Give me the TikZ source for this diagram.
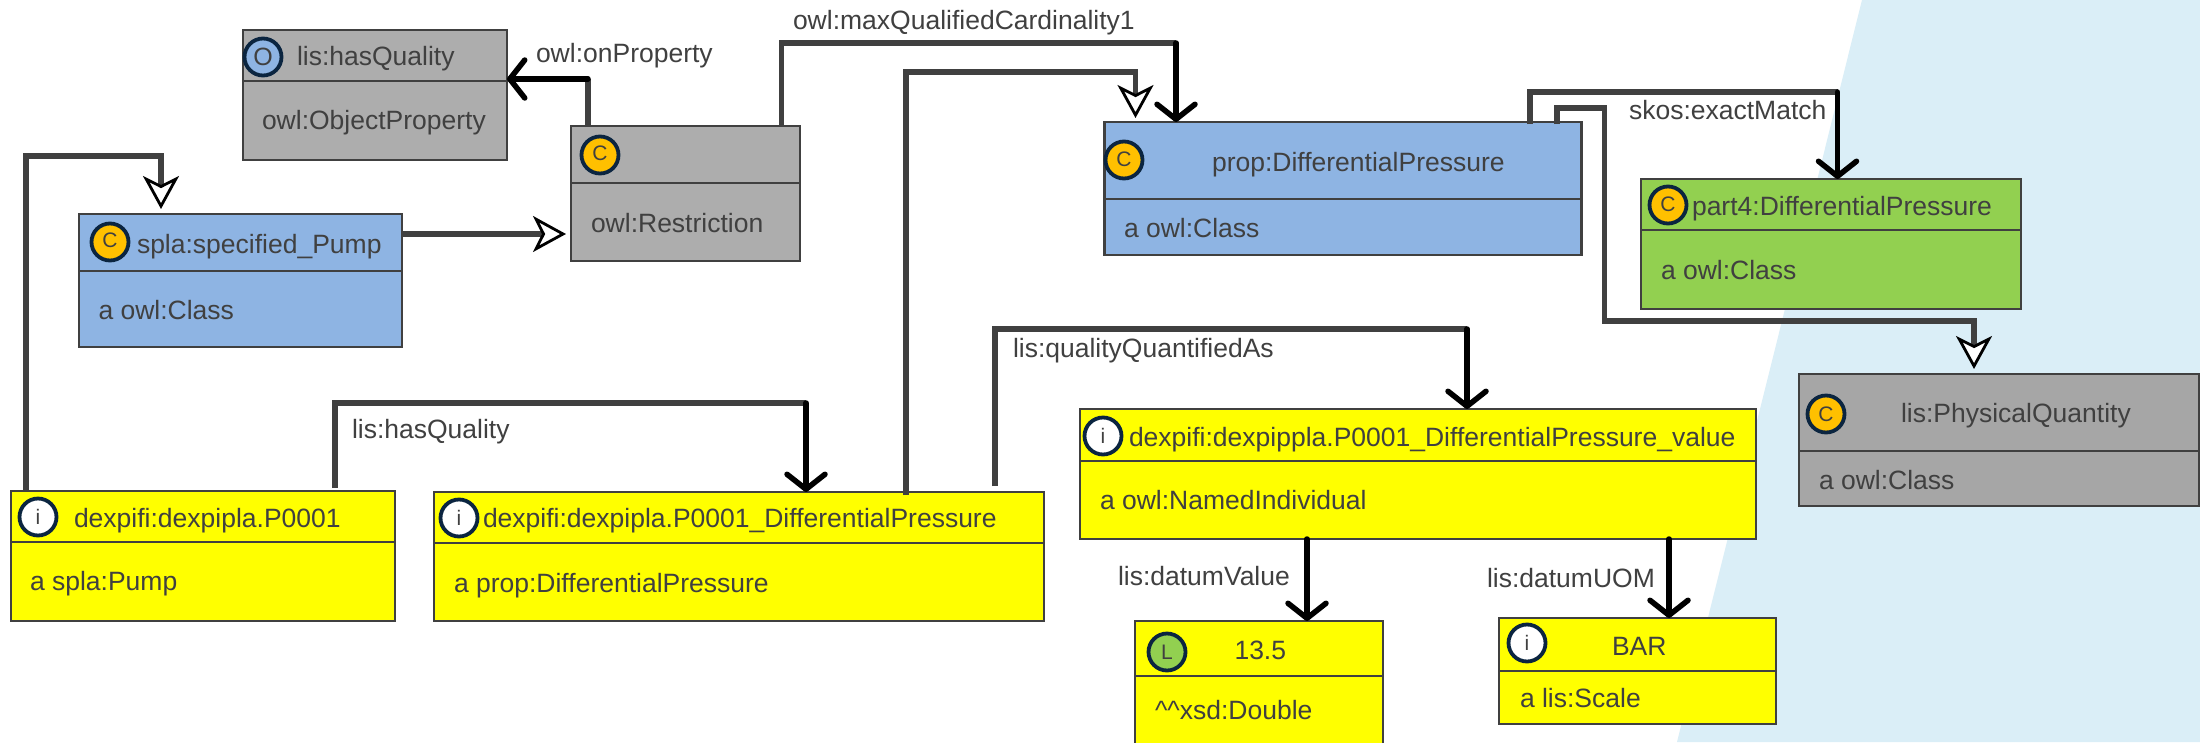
\documentclass[tikz,border=0pt]{standalone}
\usepackage{fontspec}
\setmainfont{Liberation Sans}
\usetikzlibrary{arrows.meta}
\definecolor{ink}{HTML}{404040}
\definecolor{navy}{HTML}{0B2540}
\definecolor{skyband}{HTML}{DAEEF7}
\definecolor{bluebox}{HTML}{8EB4E3}
\definecolor{greybox}{HTML}{ADADAD}
\definecolor{greyboxb}{HTML}{A6A6A6}
\definecolor{greenbox}{HTML}{92D050}
\definecolor{gold}{HTML}{FFC000}
\definecolor{yellowbox}{HTML}{FFFF00}
\tikzset{
  kboxstyle/.style={draw=ink,line width=2.6pt,rectangle,outer sep=0pt,inner sep=0pt,anchor=north west},
  divider/.style={draw=ink,line width=2.6pt},
  lbl/.style={anchor=base west,inner sep=0pt,outer sep=0pt,text=ink,font=\fontsize{26.5}{30}\selectfont},
  badge/.style={circle,draw=navy,line width=3.8pt,minimum size=37pt,inner sep=0pt,outer sep=0pt,text=ink,font=\fontsize{21}{24}\selectfont},
  conn/.style={draw=ink,line width=5.5pt},
  connstrong/.style={draw=black,line width=5.5pt,line cap=round,-{Straight Barb[length=15pt,width=38pt,line width=5.5pt,round]}},
  openhead/.style={-{Stealth[length=33pt,width=36pt,inset=9pt,line width=2.8pt,color=black,fill=white]}},
}
% name, x0, y0, x1, y1, divider y, fill
\newcommand{\kbox}[7]{%
  \node[kboxstyle,fill=#7,minimum width={(#4-#2)*1pt},minimum height={(#5-#3)*1pt}] (#1) at (#2,#3) {};
  \draw[divider] (#1.west |- 0,#6) -- (#1.east |- 0,#6);
}
\begin{document}
\begin{tikzpicture}[x=1pt,y=-1pt]
\useasboundingbox (0,0) rectangle (2200,742);
\clip (0,0) rectangle (2200,742);
\fill[white] (0,0) rectangle (2200,742);
\fill[skyband] (1862,0) -- (2200,0) -- (2200,742) -- (1677,742) -- cycle;

% boxes
\kbox{hq}{243}{30}{507}{160}{81}{greybox}
\kbox{restr}{571}{126}{800}{261}{183}{greybox}
\kbox{spla}{79}{214}{402}{347}{271}{bluebox}
\kbox{prop}{1104.5}{122}{1581.5}{255}{199}{bluebox}
\kbox{part}{1641}{179}{2021}{309}{230}{greenbox}
\kbox{pq}{1799}{374}{2199}{506}{451}{greyboxb}
\kbox{pump}{11}{491}{395}{621}{542}{yellowbox}
\kbox{dp}{434}{492}{1044}{621}{543}{yellowbox}
\kbox{val}{1080}{409}{1756}{539}{461}{yellowbox}
\kbox{lit}{1135}{621}{1383}{770}{676}{yellowbox}
\kbox{bar}{1499}{618}{1776}{724}{671}{yellowbox}

% badges
\node[badge,fill=bluebox,font=\fontsize{25}{28}\selectfont] (bhq) at (263,57) {O};
\node[badge,fill=gold] (brestr) at (600,155) {\raisebox{3pt}{C}};
\node[badge,fill=gold] (bspla) at (110,242) {\raisebox{3pt}{C}};
\node[badge,fill=gold] (bprop) at (1124,160) {\raisebox{1pt}{C}};
\node[badge,fill=gold] (bpart) at (1668,205) {\raisebox{1pt}{C}};
\node[badge,fill=gold] (bpq) at (1826,414) {C};
\node[badge,fill=white] (bpump) at (38,517) {i};
\node[badge,fill=white] (bdp) at (459,518) {i};
\node[badge,fill=white] (bval) at (1103,436) {i};
\node[badge,fill=greenbox] (blit) at (1167,652) {\raisebox{-3pt}{L}};
\node[badge,fill=white] (bbar) at (1527,643) {\raisebox{1pt}{i}};

% box texts
\node[lbl] (t1) at (297,65) {lis:hasQuality};
\node[lbl] (t2) at (262,129) {owl:ObjectProperty};
\node[lbl] (t3) at (591,232) {owl:Restriction};
\node[lbl] (t4) at (137,253) {spla:specified\_Pump};
\node[lbl] (t5) at (98.5,319) {a owl:Class};
\node[lbl] (t6) at (1212,171) {prop:DifferentialPressure};
\node[lbl] (t7) at (1124,237) {a owl:Class};
\node[lbl] (t8) at (1692,215) {part4:DifferentialPressure};
\node[lbl] (t9) at (1661,279) {a owl:Class};
\node[lbl] (t10) at (1901,422) {lis:PhysicalQuantity};
\node[lbl] (t11) at (1819,489) {a owl:Class};
\node[lbl] (t12) at (74,527) {dexpifi:dexpipla.P0001};
\node[lbl] (t13) at (30,590) {a spla:Pump};
\node[lbl] (t14) at (483,527) {dexpifi:dexpipla.P0001\_DifferentialPressure};
\node[lbl] (t15) at (454,592) {a prop:DifferentialPressure};
\node[lbl] (t16) at (1129,446) {dexpifi:dexpippla.P0001\_DifferentialPressure\_value};
\node[lbl] (t17) at (1100,509) {a owl:NamedIndividual};
\node[lbl] (t18) at (1234.5,659) {13.5};
\node[lbl] (t19) at (1155,719) {\textasciicircum\textasciicircum xsd:Double};
\node[lbl] (t20) at (1612,655) {BAR};
\node[lbl] (t21) at (1520,707) {a lis:Scale};

% connector labels
\node[lbl] (l1) at (536,62) {owl:onProperty};
\node[lbl] (l2) at (793,29) {owl:maxQualifiedCardinality1};
\node[lbl] (l3) at (1013,357) {lis:qualityQuantifiedAs};
\node[lbl] (l4) at (1629,119) {skos:exactMatch};
\node[lbl] (l5) at (352,438) {lis:hasQuality};
\node[lbl] (l6) at (1118,585) {lis:datumValue};
\node[lbl] (l7) at (1487,587) {lis:datumUOM};

% bend points
\coordinate (bq) at (588,79);
\coordinate (bm) at (1176,43);
\coordinate (bs) at (1837.5,92);
\coordinate (bv) at (1467,329);
\coordinate (bh) at (806,403);

% open-headed connectors
\draw[conn,openhead,shorten >=5pt] (pump.north west -| 26,0) -- (26,156) -| ([xshift=82pt]spla.north west);
\draw[conn,openhead,shorten >=5pt] (spla.east |- 0,234) -- (restr.west |- 0,234);
\draw[conn,openhead,shorten >=4pt] ([xshift=472pt,yshift=-3pt]dp.north west) -- ++(0,-423) -| ([xshift=31pt]prop.north west);
\draw[conn,openhead,shorten >=5pt] ([xshift=452.5pt,yshift=-2pt]prop.north west) -- ++(0,-16) -- ++(47.5,0) -- ++(0,213) -| ([xshift=175pt]pq.north west);

% strong connectors: grey run, then black run
\draw[conn] ([xshift=17pt]restr.north west) |- (bq);
\draw[connstrong] (bq) -- (bq -| hq.east);
\draw[conn] ([xshift=210.5pt]restr.north west) |- (bm);
\draw[connstrong] (bm) -- (bm |- prop.north);
\draw[conn] ([xshift=425.5pt,yshift=-2pt]prop.north west) |- (bs);
\draw[connstrong] (bs) -- (bs |- part.north);
\draw[conn] ([xshift=561pt,yshift=6pt]dp.north west) |- (bv);
\draw[connstrong] (bv) -- (bv |- val.north);
\draw[conn] ([xshift=324pt,yshift=3pt]pump.north west) |- (bh);
\draw[connstrong] (bh) -- (bh |- dp.north);
\draw[connstrong] ([xshift=227pt]val.south west) -- ([xshift=172pt]lit.north west);
\draw[connstrong] ([xshift=589pt]val.south west) -- ([xshift=170pt]bar.north west);
\end{tikzpicture}
\end{document}
